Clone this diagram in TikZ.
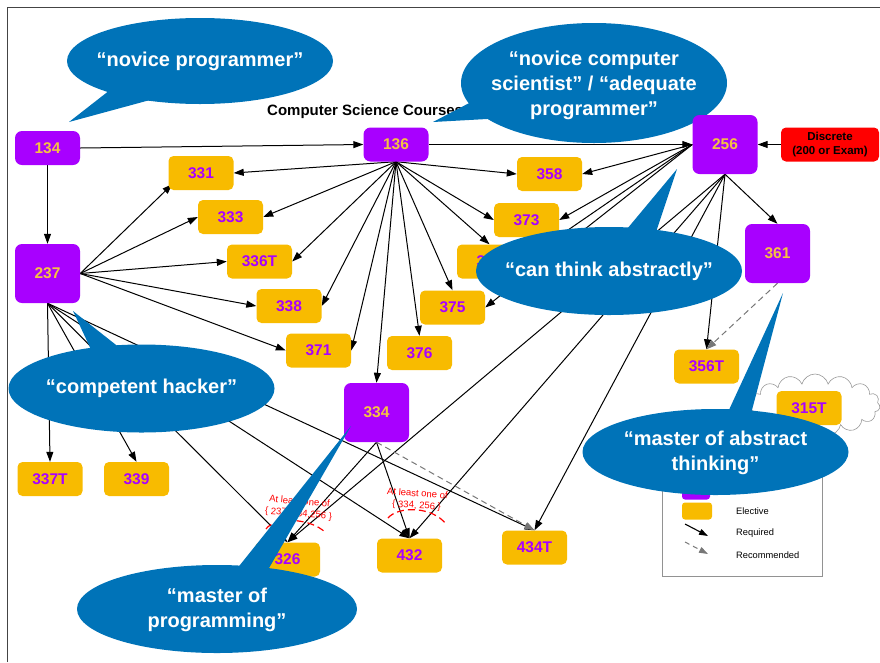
\documentclass[tikz,border=0pt]{standalone}
\usepackage{fontspec}
\setmainfont{Liberation Sans}
\usetikzlibrary{arrows.meta,shapes.symbols,calc}
\pgfdeclarelayer{edges}
\pgfsetlayers{edges,main}
\definecolor{cpurple}{HTML}{A800FF}
\definecolor{cgold}{HTML}{F5C242}
\definecolor{camber}{HTML}{F8BB00}
\definecolor{cblue}{HTML}{0073B8}
\definecolor{cframe}{HTML}{444444}
\definecolor{cgray}{HTML}{777777}
\tikzset{
  core/.style={fill=cpurple, text=cgold, rounded corners=7pt, minimum width=65pt, inner sep=0pt,
    font=\fontsize{15.5}{18}\selectfont\bfseries},
  corebig/.style={core, minimum height=59pt},
  coresmall/.style={core, minimum height=34pt},
  elective/.style={fill=camber, text=cpurple, rounded corners=5pt, minimum width=65pt, minimum height=34pt,
    inner sep=0pt, font=\fontsize{15.5}{18}\selectfont\bfseries},
  req/.style={draw=black, line width=1pt, -{Triangle[length=10pt,width=7pt]}},
  rec/.style={draw=cgray, line width=1pt, dash pattern=on 6pt off 4pt, -{Triangle[length=10pt,width=7pt]}},
  btext/.style={text=white, font=\fontsize{20}{25}\selectfont\bfseries, align=center, inner sep=0pt},
  note/.style={text=red, font=\fontsize{9.5}{12}\selectfont, align=center, inner sep=0pt},
  legtext/.style={font=\fontsize{9.3}{11}\selectfont, anchor=west, inner sep=0pt},
  redarc/.style={red, line width=1.2pt, dash pattern=on 7pt off 4pt},
}
\begin{document}
\begin{tikzpicture}[x=1pt,y=-1pt]
\useasboundingbox (0,0) rectangle (880,662);
% frame
\draw[cframe, line width=0.8pt] (7,662) -- (7,7) -- (880,7);
% title
\node[anchor=base west, inner sep=0pt, font=\fontsize{15}{18}\selectfont\bfseries] (title) at (267,115) {Computer Science Courses};
% bubble 2 (under nodes)
\fill[cblue] (594,83) ellipse [x radius=133pt, y radius=60pt];
\fill[cblue] (433,122) -- (475,100) -- (505,118) -- cycle;
\node[btext] (b2t) at (594,85) {“novice computer\\scientist” / “adequate\\programmer”};
% cloud
\node[cloud, draw=gray!80, line width=0.6pt, cloud puffs=15, aspect=2.1, minimum width=130pt, minimum height=62pt, inner sep=0pt] (cloud) at (815,405) {};
% core nodes
\node[coresmall] (n134) at (47.5,148) {134};
\node[corebig] (n237) at (47.5,273.5) {237};
\node[coresmall] (n136) at (396,144.5) {136};
\node[corebig] (n256) at (725,144.5) {256};
\node[corebig] (n361) at (777.5,253.5) {361};
\node[corebig] (n334) at (376.5,412.5) {334};
\node[fill=red, rounded corners=5pt, minimum width=98pt, minimum height=34pt, inner sep=0pt, align=center,
  font=\fontsize{11.5}{14}\selectfont\bfseries] (disc) at (830,144.5) {Discrete\\(200 or Exam)};
% electives
\node[elective] (n331) at (201,173) {331};
\node[elective] (n333) at (230.5,217) {333};
\node[elective] (n336T) at (259.5,261.5) {336T};
\node[elective] (n338) at (289,306) {338};
\node[elective] (n371) at (318.5,350.5) {371};
\node[elective] (n376) at (419.5,353) {376};
\node[elective] (n375) at (452.5,307.5) {375};
\node[elective] (n374) at (489.5,261.5) {374};
\node[elective] (n358) at (549.5,174) {358};
\node[elective] (n373) at (526.5,220) {373};
\node[elective] (n356T) at (706.5,366.5) {356T};
\node[elective] (n315T) at (809,408) {315T};
\node[elective] (n337T) at (50,479) {337T};
\node[elective] (n339) at (136.5,479) {339};
\node[elective] (n326) at (287.5,559.5) {326};
\node[elective] (n432) at (409.5,555.5) {432};
\node[elective] (n434T) at (534.5,547.5) {434T};
% edges
\begin{pgfonlayer}{edges}
\draw[req] (n134.east) -- (n136.west);
\draw[req] (n134.south) -- (n237.north);
\draw[req] (n237.east) -- ([xshift=4pt,yshift=6pt]n331.south west);
\draw[req] (n237.east) -- (n333.west);
\draw[req] (n237.east) -- (n336T.west);
\draw[req] (n237.east) -- (n338.west);
\draw[req] (n237.east) -- (n371.west);
\draw[req] (n237.south) -- (n337T.north);
\draw[req] (n237.south) -- (n339.north);
\draw[req] (n237.south) -- (n326.north);
\draw[req] (n237.south) -- (n432.north);
\draw[req] (n237.south) -- (n434T.north);
\draw[req] (n136.east) -- (n256.west);
\draw[req] (n136.south) -- (n331.east);
\draw[req] (n136.south) -- (n333.east);
\draw[req] (n136.south) -- (n336T.east);
\draw[req] (n136.south) -- (n338.east);
\draw[req] (n136.south) -- (n371.east);
\draw[req] (n136.south) -- (n334.north);
\draw[req] (n136.south) -- (n376.north);
\draw[req] (n136.south) -- (n375.north);
\draw[req] (n136.south) -- (n374.north);
\draw[req] (n136.south) -- (n373.west);
\draw[req] (n136.south) -- (n358.west);
\draw[req] (n256.west) -- (n358.east);
\draw[req] (n256.west) -- (n373.east);
\draw[req] (n256.west) -- (n374.east);
\draw[req] (n256.west) -- (n375.east);
\draw[req] (n256.south) -- (n326.north);
\draw[req] (n256.south) -- (n432.north);
\draw[req] (n256.south) -- (n434T.north);
\draw[req] (n256.south) -- (n356T.north);
\draw[req] (n256.south) -- (n361.north);
\draw[req] (disc.west) -- (n256.east);
\draw[req] (n334.south) -- (n326.north);
\draw[req] (n334.south) -- (n432.north);
\draw[rec] (n334.south) -- (n434T.north);
\draw[rec] (n361.south) -- (n356T.north);
\end{pgfonlayer}
% annotations
\node[note, rotate=-5] (note1) at (299,508) {At least one of\\\{ 237, 334,256 \}};
\node[note, rotate=-4] (note2) at (417,500) {At least one of\\\{ 334, 256 \}};
\draw[redarc] (266,529) .. controls (274,517) and (310,517) .. (326,533);
\draw[redarc] (388,518) .. controls (398,506) and (432,506) .. (446,524);
% legend
\node[draw=cgray!80, line width=1pt, minimum width=160pt, minimum height=121pt, inner sep=0pt] (legend) at (742,515.5) {};
\node[fill=cpurple, rounded corners=3pt, minimum width=28pt, minimum height=17pt, inner sep=0pt] (lgcore) at (696,491) {};
\node[fill=camber, rounded corners=3pt, minimum width=30pt, minimum height=17pt, inner sep=0pt] (lgel) at (697,511) {};
\node[legtext] (lgelt) at (736,511) {Elective};
\coordinate (rq1) at (685,524);
\coordinate (rq2) at (708,536);
\draw[req, line width=1.1pt, -{Triangle[length=9pt,width=6pt]}] (rq1) -- (rq2);
\node[legtext] (lgrq) at (736,533) {Required};
\coordinate (rc1) at (685,542);
\coordinate (rc2) at (708,554);
\draw[rec, dash pattern=on 5pt off 4pt, -{Triangle[length=9pt,width=6pt]}] (rc1) -- (rc2);
\node[legtext] (lgrc) at (736,555) {Recommended};
% bubbles on top
\fill[cblue] (200,61) ellipse [x radius=133pt, y radius=43pt];
\fill[cblue] (69,122) -- (110,90) -- (150,100) -- cycle;
\node[btext] (b1t) at (200,61) {“novice programmer”};
\fill[cblue] (609,271) ellipse [x radius=133pt, y radius=44pt];
\fill[cblue] (677,169) -- (622,235) -- (655,235) -- cycle;
\node[btext] (b3t) at (609,271) {“can think abstractly”};
\fill[cblue] (141.5,388.5) ellipse [x radius=133pt, y radius=44pt];
\fill[cblue] (73,311) -- (95,358) -- (125,352) -- cycle;
\node[btext] (b4t) at (141.5,388) {“competent hacker”};
\fill[cblue] (217,609) ellipse [x radius=140pt, y radius=44pt];
\fill[cblue] (351,426) -- (232,575) -- (265,575) -- cycle;
\node[btext] (b5t) at (217,610) {“master of\\programming”};
\fill[cblue] (715.5,452) ellipse [x radius=133pt, y radius=43pt];
\fill[cblue] (783,293) -- (722,425) -- (748,425) -- cycle;
\node[btext] (b6t) at (715.5,453) {“master of abstract\\thinking”};
\end{tikzpicture}
\end{document}
